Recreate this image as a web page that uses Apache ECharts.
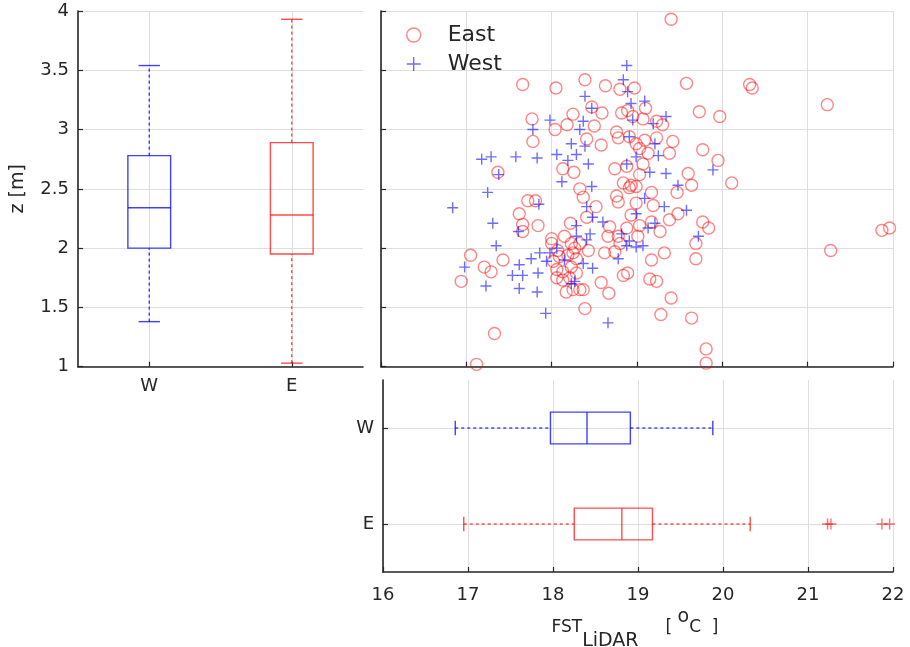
<!DOCTYPE html>
<html>
<head>
<meta charset="utf-8">
<script src="https://cdn.jsdelivr.net/npm/echarts@6/dist/echarts.min.js"></script>
<style>
html,body{margin:0;padding:0;background:#fff;}
#chart{width:910px;height:647px;}
</style>
</head>
<body>
<div id="chart"></div>
<script>
// ---------------- data ----------------
const boxCats = ['W', 'E'];
// boxplot stats: [min whisker, Q1, median, Q3, max whisker]
const zBoxW = [1.38, 2.00, 2.34, 2.78, 3.54];
const zBoxE = [1.03, 1.95, 2.28, 2.89, 3.93];
const fstBoxW = [16.85, 17.97, 18.40, 18.91, 19.88];
const fstBoxE = [16.95, 18.25, 18.81, 19.17, 20.32];
const fstOutliersE = [21.23, 21.27, 21.87, 21.96];

const xTicks = [16, 17, 18, 19, 20, 21, 22];
const zTicks = [1, 1.5, 2, 2.5, 3, 3.5, 4];

const eastFST = [
  17.66, 18.05, 18.39, 18.47, 18.25, 17.77, 18.18, 18.04, 18.50, 17.78,
  18.41, 17.37, 18.13, 18.26, 18.33, 18.37, 17.72, 17.81, 17.62, 17.66,
  17.84, 17.66, 18.22, 18.41, 18.52, 18.00, 18.15, 19.40, 19.58, 20.32,
  20.35, 18.63, 18.97, 18.80, 18.59, 19.10, 18.82, 18.89, 18.95, 19.07,
  19.23, 19.30, 19.73, 19.97, 18.76, 18.78, 18.91, 18.99, 19.09, 19.23,
  19.42, 18.58, 19.03, 19.13, 19.38, 19.77, 19.95, 18.74, 18.88, 19.07,
  19.03, 18.84, 18.93, 19.60, 19.64, 20.11, 17.05, 16.94, 17.21, 17.29,
  17.43, 17.33, 17.12, 18.00, 18.07, 18.23, 18.27, 18.33, 18.43, 18.02,
  18.09, 18.19, 18.25, 18.29, 18.06, 18.13, 18.23, 18.29, 18.06, 18.13,
  18.21, 18.17, 18.25, 18.33, 18.37, 18.39, 19.47, 19.17, 18.99, 18.91,
  18.76, 18.78, 18.99, 19.19, 18.93, 19.03, 19.17, 19.38, 19.48, 19.77,
  19.84, 18.68, 18.88, 18.66, 18.78, 19.01, 19.27, 18.80, 19.69, 18.62,
  18.74, 19.32, 19.69, 19.17, 18.84, 18.89, 19.15, 19.23, 18.58, 18.67,
  19.40, 19.28, 19.64, 19.81, 19.81, 21.23, 21.27, 21.87, 21.96
];
const eastZ = [
  3.38, 3.35, 3.42, 3.19, 3.13, 3.09, 3.04, 3.00, 3.03, 2.90,
  2.92, 2.64, 2.67, 2.64, 2.50, 2.43, 2.40, 2.40, 2.29, 2.20,
  2.19, 2.14, 2.21, 2.26, 2.35, 2.08, 2.10, 3.93, 3.39, 3.38,
  3.35, 3.37, 3.35, 3.34, 3.14, 3.18, 3.14, 3.16, 3.11, 3.09,
  3.07, 3.04, 3.15, 3.11, 2.98, 2.93, 2.94, 2.88, 2.91, 2.93,
  2.90, 2.87, 2.84, 2.80, 2.80, 2.83, 2.74, 2.67, 2.69, 2.71,
  2.62, 2.55, 2.53, 2.63, 2.53, 2.55, 1.94, 1.72, 1.84, 1.80,
  1.90, 1.28, 1.02, 2.04, 1.98, 2.04, 2.00, 2.04, 1.98, 1.89,
  1.93, 1.94, 1.96, 1.91, 1.82, 1.80, 1.84, 1.79, 1.75, 1.73,
  1.75, 1.63, 1.65, 1.65, 1.65, 1.49, 2.47, 2.47, 2.52, 2.51,
  2.44, 2.39, 2.38, 2.36, 2.28, 2.19, 2.22, 2.24, 2.29, 2.22,
  2.17, 2.18, 2.17, 2.10, 2.10, 2.10, 2.14, 2.04, 2.04, 1.96,
  1.97, 1.96, 1.91, 1.90, 1.77, 1.79, 1.74, 1.72, 1.71, 1.62,
  1.58, 1.44, 1.41, 1.15, 1.03, 3.21, 1.98, 2.15, 2.17
];

const westFST = [
  18.39, 18.47, 17.98, 17.78, 18.37, 18.33, 18.23, 18.39, 17.18, 17.29,
  17.58, 17.83, 18.06, 18.19, 18.29, 18.43, 17.38, 18.12, 18.47, 17.25,
  16.84, 17.85, 17.31, 17.61, 18.41, 18.29, 18.45, 18.88, 18.84, 18.89,
  18.93, 19.09, 18.95, 19.19, 19.34, 18.91, 19.21, 19.25, 18.99, 18.88,
  19.15, 19.34, 19.89, 19.48, 17.35, 16.98, 17.23, 17.54, 17.62, 17.66,
  17.62, 17.76, 17.84, 17.83, 17.86, 17.94, 17.98, 17.93, 18.06, 18.15,
  18.23, 18.27, 18.37, 18.48, 18.41, 18.29, 19.09, 19.32, 19.58, 18.99,
  18.60, 18.48, 19.21, 19.13, 18.82, 18.91, 18.99, 19.07, 18.78, 18.88,
  19.72, 18.66
];
const westZ = [
  3.28, 3.18, 3.08, 3.00, 3.07, 3.00, 2.88, 2.86, 2.75, 2.77,
  2.77, 2.76, 2.79, 2.74, 2.79, 2.71, 2.62, 2.56, 2.52, 2.47,
  2.34, 2.37, 2.21, 2.14, 2.35, 2.19, 2.12, 3.54, 3.42, 3.32,
  3.22, 3.24, 3.08, 3.05, 3.11, 2.94, 2.88, 2.78, 2.77, 2.71,
  2.64, 2.63, 2.66, 2.53, 2.02, 1.84, 1.68, 1.77, 1.86, 1.77,
  1.66, 1.91, 1.79, 1.63, 1.96, 1.89, 1.96, 1.45, 2.00, 1.90,
  1.70, 1.72, 1.87, 1.83, 2.07, 2.10, 2.42, 2.35, 2.32, 2.29,
  2.22, 2.26, 2.21, 2.17, 2.12, 2.06, 2.01, 2.02, 1.91, 2.02,
  2.10, 1.37
];

// ---------------- styling ----------------
const FONT = 'DejaVu Sans';
const TXT = '#262626';
const GRIDC = '#dedede';
const RED = 'rgba(255,0,0,0.6)';
const BLUE = 'rgba(0,0,255,0.72)';
const BOX_RED = 'rgba(255,0,0,0.7)';
const BOX_BLUE = 'rgba(0,0,255,0.75)';
const PLUS = 'path://M0,-10L0,10M-10,0L10,0';

const zip = (a, b) => a.map((v, i) => [v, b[i]]);

function boxRenderer(horizontal, boxFrac, capFrac) {
  return function (params, api) {
    const c = api.value(0);
    const vals = [api.value(1), api.value(2), api.value(3), api.value(4), api.value(5)];
    const color = api.visual('color');
    const P = vals.map(v => horizontal ? api.coord([v, c]) : api.coord([c, v]));
    const band = horizontal ? api.size([0, 1])[1] : api.size([1, 0])[0];
    const bw = band * boxFrac;
    const cw = bw * capFrac;
    const at = (i, off) => horizontal ? [P[i][0], P[i][1] + off] : [P[i][0] + off, P[i][1]];
    const solid = { stroke: color, lineWidth: 1.4, fill: null };
    const dashed = { stroke: color, lineWidth: 1.4, lineDash: [3, 3], fill: null };
    const line = (a, b, st) => ({ type: 'line', shape: { x1: a[0], y1: a[1], x2: b[0], y2: b[1] }, style: st });
    return {
      type: 'group',
      children: [
        line(at(3, 0), at(4, 0), dashed),
        line(at(0, 0), at(1, 0), dashed),
        line(at(4, -cw / 2), at(4, cw / 2), solid),
        line(at(0, -cw / 2), at(0, cw / 2), solid),
        { type: 'polygon', shape: { points: [at(1, -bw / 2), at(3, -bw / 2), at(3, bw / 2), at(1, bw / 2)] }, style: solid },
        line(at(2, -bw / 2), at(2, bw / 2), solid)
      ]
    };
  };
}

const axisLine = { show: true, onZero: false, lineStyle: { color: TXT, width: 1.6 } };
const axisTick = { show: true, inside: true, length: 5, lineStyle: { color: TXT, width: 1.2 } };
const splitLine = { show: true, lineStyle: { color: GRIDC, width: 1 } };
const lbl = { color: TXT, fontFamily: FONT, fontSize: 18 };

const chart = echarts.init(document.getElementById('chart'), null, { renderer: 'canvas' });

const option = {
  backgroundColor: '#ffffff',
  animation: false,
  textStyle: { fontFamily: FONT, color: TXT },
  grid: [
    { left: 78, top: 11, width: 285, height: 355.7, containLabel: false, outerBoundsMode: 'none' },
    { left: 381, top: 11, width: 512, height: 355.7, containLabel: false, outerBoundsMode: 'none' },
    { left: 383, top: 380, width: 510, height: 192, containLabel: false, outerBoundsMode: 'none' }
  ],
  legend: {
    orient: 'vertical',
    left: 401,
    top: 19,
    itemWidth: 58,
    itemHeight: 14,
    itemGap: 7,
    textStyle: { fontFamily: FONT, fontSize: 22, color: TXT },
    data: [
      { name: 'East', icon: 'circle', itemStyle: { color: 'transparent', borderColor: RED, borderWidth: 1.4 } },
      { name: 'West', icon: PLUS, itemStyle: { color: 'transparent', borderColor: BLUE, borderWidth: 1.4 } }
    ]
  },
  xAxis: [
    {
      type: 'category', gridIndex: 0, data: boxCats, boundaryGap: true,
      axisLine, axisTick: Object.assign({ alignWithLabel: true }, axisTick),
      axisLabel: Object.assign({ margin: 11 }, lbl),
      splitLine: Object.assign({ alignWithLabel: true }, splitLine)
    },
    {
      type: 'value', gridIndex: 1, min: xTicks[0], max: xTicks[xTicks.length - 1], interval: 1,
      axisLine, axisTick, axisLabel: { show: false }, splitLine
    },
    {
      type: 'value', gridIndex: 2, min: xTicks[0], max: xTicks[xTicks.length - 1], interval: 1,
      axisLine, axisTick, axisLabel: Object.assign({ margin: 14 }, lbl), splitLine,
      name: '{m|FST}{s|LiDAR}{m|     [ }{p|o}{m|C  ]}',
      nameLocation: 'middle',
      nameGap: 31,
      nameTextStyle: {
        fontFamily: FONT, color: TXT, fontSize: 17,
        padding: [0, 6, 0, 0],
        rich: {
          m: { fontFamily: FONT, color: TXT, fontSize: 17, lineHeight: 50, verticalAlign: 'middle' },
          s: { fontFamily: FONT, color: TXT, fontSize: 19, verticalAlign: 'middle', padding: [26, 0, 0, 0] },
          p: { fontFamily: FONT, color: TXT, fontSize: 19, verticalAlign: 'middle', padding: [0, 0, 21, 0] }
        }
      }
    }
  ],
  yAxis: [
    {
      type: 'value', gridIndex: 0, min: zTicks[0], max: zTicks[zTicks.length - 1], interval: 0.5,
      axisLine, axisTick, axisLabel: Object.assign({ margin: 9 }, lbl), splitLine,
      name: 'z [m]', nameLocation: 'middle', nameGap: 50,
      nameTextStyle: { fontFamily: FONT, color: TXT, fontSize: 19 }
    },
    {
      type: 'value', gridIndex: 1, min: zTicks[0], max: zTicks[zTicks.length - 1], interval: 0.5,
      axisLine, axisTick, axisLabel: { show: false }, splitLine
    },
    {
      type: 'category', gridIndex: 2, data: boxCats, inverse: true, boundaryGap: true,
      axisLine, axisTick: Object.assign({ alignWithLabel: true }, axisTick),
      axisLabel: Object.assign({ margin: 9 }, lbl),
      splitLine: Object.assign({ alignWithLabel: true }, splitLine)
    }
  ],
  series: [
    {
      name: 'zBoxW', type: 'custom', xAxisIndex: 0, yAxisIndex: 0,
      renderItem: boxRenderer(false, 0.30, 0.5),
      encode: { x: 0, y: [1, 2, 3, 4, 5] },
      itemStyle: { color: BOX_BLUE },
      data: [[0].concat(zBoxW)]
    },
    {
      name: 'zBoxE', type: 'custom', xAxisIndex: 0, yAxisIndex: 0,
      renderItem: boxRenderer(false, 0.30, 0.5),
      encode: { x: 0, y: [1, 2, 3, 4, 5] },
      itemStyle: { color: BOX_RED },
      data: [[1].concat(zBoxE)]
    },
    {
      name: 'fstBoxW', type: 'custom', xAxisIndex: 2, yAxisIndex: 2,
      renderItem: boxRenderer(true, 0.33, 0.45),
      encode: { y: 0, x: [1, 2, 3, 4, 5] },
      itemStyle: { color: BOX_BLUE },
      data: [[0].concat(fstBoxW)]
    },
    {
      name: 'fstBoxE', type: 'custom', xAxisIndex: 2, yAxisIndex: 2,
      renderItem: boxRenderer(true, 0.33, 0.45),
      encode: { y: 0, x: [1, 2, 3, 4, 5] },
      itemStyle: { color: BOX_RED },
      data: [[1].concat(fstBoxE)]
    },
    {
      name: 'fstOutliersE', type: 'scatter', xAxisIndex: 2, yAxisIndex: 2,
      symbol: PLUS, symbolSize: 11,
      itemStyle: { color: 'transparent', borderColor: BOX_RED, borderWidth: 1.4 },
      data: fstOutliersE.map(v => [v, 1])
    },
    {
      name: 'East', type: 'scatter', xAxisIndex: 1, yAxisIndex: 1,
      symbol: 'circle', symbolSize: 12,
      itemStyle: { color: 'transparent', borderColor: RED, borderWidth: 1.4 },
      data: zip(eastFST, eastZ)
    },
    {
      name: 'West', type: 'scatter', xAxisIndex: 1, yAxisIndex: 1,
      symbol: PLUS, symbolSize: 11,
      itemStyle: { color: 'transparent', borderColor: BLUE, borderWidth: 1.4 },
      data: zip(westFST, westZ)
    }
  ]
};
chart.setOption(option);
</script>
</body>
</html>
